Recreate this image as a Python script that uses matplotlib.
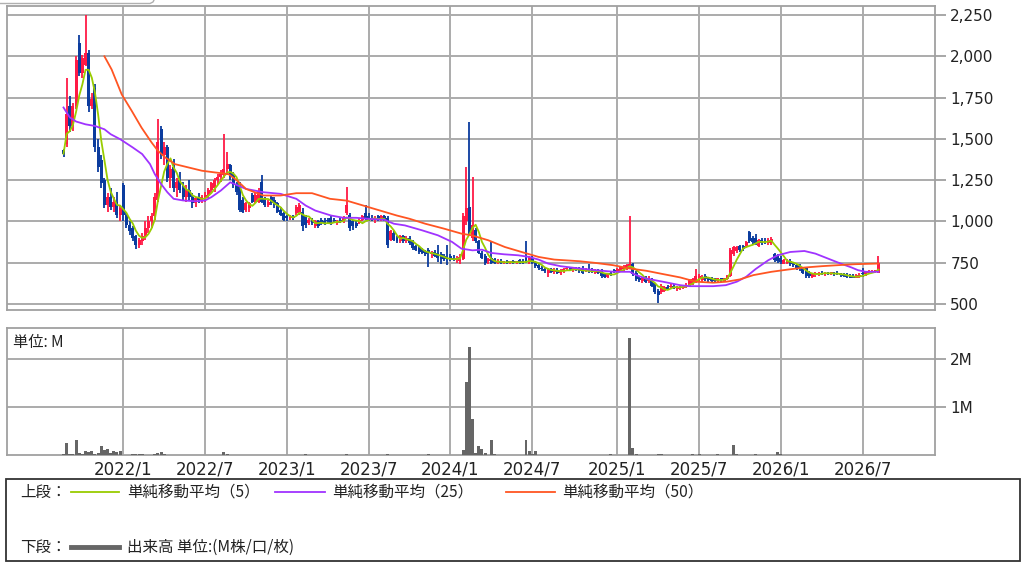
import matplotlib
matplotlib.use('Agg')
import matplotlib.pyplot as plt
import numpy as np
import pandas as pd
from matplotlib.lines import Line2D
from matplotlib.patches import Rectangle

# ---------------- data (weekly OHLC) ----------------
opens = [1430, 1470, 1700, 1580, 1700, 2080, 1900, 1950, 2020, 1700,
         1810, 1450, 1370, 1250, 1100, 1150, 1090, 1120, 1040, 1220,
         1040, 980, 960, 910, 860, 880, 910, 960, 1000, 1030,
         1130, 1560, 1400, 1450, 1260, 1330, 1200, 1250, 1200, 1150,
         1190, 1150, 1110, 1140, 1130, 1150, 1160, 1190, 1200, 1250,
         1270, 1280, 1320, 1340, 1280, 1220, 1230, 1130, 1070, 1080,
         1160, 1120, 1120, 1240, 1140, 1100, 1150, 1130, 1110, 1070,
         1050, 1030, 1020, 1030, 1050, 1050, 1060, 1030, 990, 1010,
         970, 1000, 1010, 1000, 1010, 1020, 1010, 990, 1010, 1000,
         1050, 1040, 1000, 990, 990, 1010, 1050, 1030, 1020, 1010,
         1030, 1010, 1030, 1020, 890, 930, 900, 880, 910, 880,
         900, 880, 850, 840, 830, 820, 830, 800, 815, 810,
         800, 790, 780, 790, 780, 765, 760, 775, 1000, 1090,
         900, 950, 880, 810, 790, 760, 780, 770, 750, 760,
         750, 755, 750, 757, 750, 765, 760, 780, 760, 780,
         750, 735, 720, 710, 690, 710, 695, 705, 690, 700,
         710, 715, 705, 715, 710, 720, 700, 710, 705, 690,
         705, 700, 680, 665, 690, 700, 695, 700, 710, 715,
         720, 745, 690, 660, 640, 650, 640, 650, 625, 580,
         570, 580, 600, 600, 610, 590, 595, 595, 605, 615,
         620, 635, 650, 645, 670, 660, 655, 650, 640, 655,
         640, 650, 670, 800, 820, 850, 850, 850, 935, 900,
         900, 850, 890, 880, 870, 870, 800, 790, 780, 745,
         750, 760, 745, 735, 730, 720, 715, 690, 665, 675,
         680, 690, 680, 690, 685, 690, 690, 685, 680, 675,
         670, 665, 660, 665, 690, 680, 690, 690, 695, 690]
highs = [1440, 1870, 1760, 1720, 2000, 2130, 2010, 2250, 2040, 1780,
         1830, 1500, 1400, 1260, 1170, 1200, 1150, 1180, 1100, 1230,
         1060, 1000, 970, 920, 900, 930, 1000, 1030, 1050, 1170,
         1620, 1580, 1480, 1460, 1340, 1380, 1260, 1300, 1240, 1220,
         1250, 1170, 1150, 1170, 1160, 1180, 1200, 1240, 1260, 1290,
         1310, 1530, 1420, 1350, 1300, 1240, 1240, 1150, 1120, 1120,
         1170, 1170, 1200, 1280, 1150, 1130, 1160, 1150, 1120, 1090,
         1060, 1040, 1040, 1040, 1100, 1110, 1080, 1040, 1020, 1020,
         1010, 1010, 1020, 1020, 1020, 1030, 1020, 1010, 1020, 1030,
         1210, 1050, 1010, 1010, 1020, 1040, 1100, 1050, 1040, 1030,
         1040, 1040, 1040, 1030, 950, 940, 910, 920, 920, 910,
         910, 890, 860, 850, 840, 830, 840, 820, 825, 855,
         815, 800, 855, 800, 795, 790, 800, 1050, 1330, 1600,
         1270, 960, 890, 820, 800, 780, 880, 780, 770, 770,
         760, 765, 760, 765, 760, 775, 775, 880, 790, 790,
         760, 745, 730, 725, 720, 720, 715, 715, 710, 720,
         725, 725, 720, 725, 725, 730, 715, 745, 715, 710,
         710, 710, 690, 690, 700, 710, 715, 730, 735, 740,
         1030, 750, 700, 670, 665, 670, 670, 660, 630, 590,
         620, 610, 615, 620, 620, 610, 610, 615, 625, 650,
         660, 710, 680, 675, 680, 665, 665, 660, 660, 660,
         660, 675, 840, 850, 850, 855, 860, 880, 945, 910,
         925, 895, 900, 900, 900, 905, 810, 800, 790, 775,
         770, 770, 755, 745, 740, 725, 720, 700, 690, 695,
         695, 700, 695, 695, 695, 695, 700, 690, 690, 685,
         680, 680, 680, 685, 720, 700, 705, 705, 705, 790]
lows = [1390, 1450, 1540, 1550, 1680, 1880, 1870, 1940, 1660, 1680,
        1420, 1300, 1200, 1080, 1060, 1070, 1060, 1020, 1000, 1000,
        960, 920, 880, 835, 840, 860, 890, 930, 960, 1010,
        1120, 1380, 1340, 1240, 1200, 1180, 1150, 1170, 1130, 1120,
        1130, 1080, 1090, 1110, 1110, 1120, 1140, 1170, 1180, 1220,
        1240, 1260, 1280, 1250, 1200, 1160, 1060, 1050, 1060, 1060,
        1110, 1110, 1110, 1110, 1090, 1090, 1100, 1080, 1050, 1030,
        1000, 1000, 1010, 1010, 1040, 1040, 940, 960, 980, 980,
        960, 960, 980, 980, 990, 980, 990, 980, 990, 990,
        1040, 940, 950, 960, 985, 1000, 1010, 1000, 1000, 990,
        1000, 1000, 1000, 840, 880, 880, 870, 870, 870, 870,
        860, 830, 820, 805, 800, 790, 725, 780, 785, 755,
        740, 760, 735, 760, 760, 750, 745, 765, 980, 920,
        880, 870, 800, 770, 735, 740, 740, 740, 740, 745,
        745, 745, 745, 745, 745, 745, 745, 750, 745, 740,
        720, 705, 700, 690, 665, 685, 680, 680, 675, 690,
        700, 700, 695, 700, 690, 680, 695, 690, 685, 680,
        680, 660, 655, 660, 670, 685, 690, 695, 700, 705,
        710, 670, 640, 635, 630, 625, 630, 600, 560, 505,
        560, 570, 585, 590, 590, 580, 585, 590, 595, 610,
        615, 630, 635, 635, 640, 635, 635, 630, 635, 635,
        635, 645, 665, 790, 810, 815, 820, 840, 870, 860,
        855, 845, 860, 865, 860, 860, 755, 750, 745, 740,
        740, 730, 725, 705, 700, 680, 660, 660, 660, 665,
        670, 675, 670, 675, 675, 670, 675, 665, 665, 660,
        655, 655, 655, 655, 665, 670, 680, 685, 690, 685]
closes = [1410, 1650, 1580, 1700, 1980, 1900, 1990, 2020, 1700, 1740,
          1450, 1330, 1230, 1100, 1150, 1090, 1120, 1040, 1080, 1040,
          980, 940, 900, 860, 890, 910, 960, 1000, 1030, 1150,
          1480, 1400, 1450, 1260, 1320, 1200, 1240, 1190, 1150, 1190,
          1150, 1110, 1140, 1130, 1150, 1160, 1190, 1230, 1250, 1270,
          1290, 1320, 1350, 1270, 1220, 1180, 1070, 1060, 1110, 1110,
          1120, 1160, 1180, 1120, 1100, 1120, 1110, 1100, 1060, 1040,
          1010, 1020, 1030, 1020, 1090, 1100, 970, 980, 1010, 990,
          1000, 970, 990, 990, 1000, 990, 1000, 1005, 995, 1020,
          1100, 960, 970, 975, 1010, 1030, 1020, 1010, 1010, 1020,
          1010, 1030, 1010, 860, 940, 890, 880, 910, 880, 900,
          870, 840, 830, 815, 810, 800, 810, 810, 790, 780,
          770, 775, 770, 770, 770, 780, 785, 1030, 1080, 930,
          980, 880, 810, 780, 750, 770, 750, 750, 760, 750,
          755, 750, 757, 750, 758, 750, 755, 760, 780, 750,
          730, 715, 710, 700, 710, 695, 705, 690, 700, 710,
          715, 705, 715, 705, 700, 690, 705, 700, 695, 705,
          690, 670, 665, 685, 680, 695, 710, 725, 725, 735,
          745, 680, 650, 645, 660, 635, 660, 610, 570, 555,
          610, 600, 590, 610, 600, 605, 600, 610, 615, 645,
          650, 670, 670, 665, 650, 645, 640, 640, 655, 645,
          655, 670, 830, 845, 845, 825, 835, 875, 880, 875,
          870, 885, 870, 875, 890, 895, 765, 760, 755, 765,
          760, 740, 735, 715, 710, 690, 670, 670, 685, 690,
          690, 680, 690, 680, 690, 680, 680, 675, 670, 665,
          660, 660, 675, 675, 680, 695, 695, 700, 700, 750]
volumes = [0.03, 0.25, 0.02, 0.03, 0.32, 0.04, 0.03, 0.08, 0.07, 0.08,
           0.03, 0.04, 0.19, 0.10, 0.13, 0.04, 0.08, 0.07, 0.08, 0.01,
           0.01, 0.01, 0.03, 0.03, 0.03, 0.03, 0.01, 0.01, 0.01, 0.02,
           0.04, 0.07, 0.02, 0.01, 0.01, 0.01, 0.01, 0.01, 0.01, 0.01,
           0.01, 0.01, 0.01, 0.01, 0.01, 0.01, 0.01, 0.01, 0.01, 0.01,
           0.01, 0.07, 0.02, 0.01, 0.01, 0.01, 0.01, 0.01, 0.01, 0.01,
           0.01, 0.01, 0.01, 0.01, 0.01, 0.01, 0.01, 0.01, 0.01, 0.01,
           0.01, 0.01, 0.01, 0.01, 0.01, 0.01, 0.01, 0.03, 0.01, 0.01,
           0.01, 0.01, 0.01, 0.01, 0.01, 0.01, 0.01, 0.01, 0.01, 0.01,
           0.03, 0.01, 0.01, 0.01, 0.01, 0.01, 0.01, 0.01, 0.01, 0.01,
           0.01, 0.01, 0.01, 0.03, 0.01, 0.01, 0.01, 0.01, 0.01, 0.01,
           0.01, 0.01, 0.01, 0.01, 0.01, 0.01, 0.03, 0.01, 0.01, 0.01,
           0.01, 0.01, 0.01, 0.01, 0.01, 0.01, 0.01, 0.10, 1.52, 2.24,
           0.74, 0.05, 0.18, 0.13, 0.04, 0.01, 0.31, 0.03, 0.01, 0.01,
           0.01, 0.01, 0.01, 0.01, 0.01, 0.01, 0.01, 0.31, 0.09, 0.03,
           0.09, 0.01, 0.01, 0.01, 0.01, 0.01, 0.01, 0.01, 0.01, 0.01,
           0.01, 0.01, 0.01, 0.01, 0.01, 0.01, 0.01, 0.01, 0.01, 0.01,
           0.01, 0.01, 0.01, 0.01, 0.03, 0.01, 0.01, 0.01, 0.01, 0.01,
           2.43, 0.14, 0.03, 0.01, 0.01, 0.01, 0.01, 0.01, 0.01, 0.03,
           0.03, 0.01, 0.01, 0.01, 0.01, 0.01, 0.01, 0.01, 0.01, 0.01,
           0.03, 0.01, 0.03, 0.01, 0.01, 0.01, 0.01, 0.01, 0.03, 0.01,
           0.01, 0.01, 0.01, 0.21, 0.03, 0.01, 0.01, 0.01, 0.01, 0.01,
           0.03, 0.01, 0.01, 0.01, 0.01, 0.01, 0.01, 0.06, 0.03, 0.01,
           0.01, 0.01, 0.01, 0.01, 0.01, 0.01, 0.01, 0.01, 0.01, 0.01,
           0.01, 0.01, 0.01, 0.01, 0.01, 0.01, 0.01, 0.01, 0.01, 0.01,
           0.01, 0.01, 0.01, 0.01, 0.01, 0.01, 0.01, 0.01, 0.01, 0.01]

# moving averages (25, 50) at week positions
ma25_x = [0, 2, 4, 7, 10, 13, 15, 18, 22, 25, 27.5, 29, 31, 33, 35, 38, 42, 45, 47, 50,
          53, 58, 63.5, 69, 74, 77, 80, 85, 89, 93, 97, 102, 105, 108.5, 114, 119, 123.5,
          126.5, 130, 133, 136, 140, 144.5, 148, 151, 154, 158, 164, 169, 175, 180, 182,
          185, 190.5, 196, 199, 206.5, 210.5, 214, 217, 220, 224, 227, 231, 235.5, 239,
          243, 247, 250.5, 252.5, 255, 259]
ma25_y = [1690, 1630, 1605, 1588, 1578, 1558, 1528, 1498, 1448, 1408, 1347, 1287, 1227, 1177,
          1137, 1127, 1122, 1127, 1147, 1187, 1237, 1197, 1177, 1167, 1137, 1096, 1066, 1036,
          1022, 1022, 1016, 1010, 986, 976, 946, 916, 876, 835, 825, 829, 809, 801, 795, 785,
          769, 745, 729, 715, 705, 695, 695, 675, 655, 635, 614, 608, 608, 614, 635, 665, 712,
          765, 795, 815, 821, 805, 775, 745, 721, 705, 695, 695]
ma50_x = [13, 15.3, 18.5, 21.7, 24.8, 28, 30, 32.3, 35.4, 39.7, 44, 48, 52.4, 55, 58, 63.5,
          69, 74, 79, 84.7, 90, 95.3, 100.6, 105.9, 110, 115, 121, 126.5, 129.7, 135, 140.3,
          145.6, 151, 156, 164, 169, 174.7, 180, 185.3, 190.6, 196, 201, 206.5, 210.7, 215,
          219.3, 225, 230.4, 235.6, 241, 246, 251.5, 259]
ma50_y = [2000, 1920, 1769, 1669, 1568, 1478, 1428, 1388, 1347, 1327, 1307, 1297, 1287, 1250,
          1197, 1157, 1157, 1171, 1171, 1137, 1126, 1096, 1066, 1036, 1016, 986, 956, 926, 916,
          886, 845, 815, 785, 769, 759, 749, 735, 715, 701, 681, 661, 635, 629, 635, 649, 675,
          695, 709, 721, 729, 735, 741, 745]

tick_pos = [19, 45, 71, 97, 123, 149, 176, 202, 228, 254]
tick_labels = ['2022/1', '2022/7', '2023/1', '2023/7', '2024/1', '2024/7',
               '2025/1', '2025/7', '2026/1', '2026/7']
price_ticks = [500, 750, 1000, 1250, 1500, 1750, 2000, 2250]
vol_ticks = [1, 2]
vol_labels = ['1M', '2M']

# ---------------- drawing ----------------
plt.rcParams['font.family'] = ['DejaVu Sans']
CJK = ['Noto Sans CJK JP', 'DejaVu Sans']
RED = '#ff1a45'
BLUE = '#0b3c9e'
GRID = '#ababab'
TXT = '#222222'

W, H = 1024, 565
fig = plt.figure(figsize=(W / 100, H / 100), dpi=100)
fig.patch.set_facecolor('white')


def rect(l, t, r, b):
    return [l / W, 1 - b / H, (r - l) / W, (b - t) / H]


ax = fig.add_axes(rect(7, 6, 935, 310))
axv = fig.add_axes(rect(7, 328, 935, 455))

x = np.arange(len(closes))
o = np.array(opens, float)
h = np.array(highs, float)
l = np.array(lows, float)
c = np.array(closes, float)
up = c >= o
cols = np.where(up, RED, BLUE)
body_lo = np.minimum(o, c)
body_h = np.maximum(np.abs(c - o), 8)

ax.vlines(x, l, h, colors=cols, lw=1.3, zorder=3)
ax.bar(x, body_h, bottom=body_lo, width=0.95, color=cols, lw=0, zorder=3)

ma5 = pd.Series(c).rolling(5, min_periods=1).mean()
ax.plot(x, ma5, color='#99cc00', lw=1.3, zorder=5)
ax.plot(ma25_x, ma25_y, color='#a033ff', lw=1.3, zorder=5)
ax.plot(ma50_x, ma50_y, color='#ff5522', lw=1.3, zorder=5)

xlim = (-17.96, 277.0)
for a in (ax, axv):
    a.set_xlim(*xlim)
    a.set_xticks(tick_pos)
    a.grid(True, color=GRID, lw=1.4, zorder=0)
    a.set_axisbelow(True)
    for s in a.spines.values():
        s.set_color('#a0a0a0')
        s.set_linewidth(1.3)
    a.yaxis.tick_right()
    a.tick_params(axis='y', which='both', right=True, left=False, labelright=True,
                  labelleft=False, length=8, width=1.3, color='#a0a0a0',
                  labelsize=11, labelcolor=TXT, pad=3)

ax.set_ylim(463.7, 2304.5)
ax.set_yticks(price_ticks)
ax.set_yticklabels([f'{v:,}' for v in price_ticks])
ax.tick_params(axis='x', length=0, labelbottom=False)

axv.bar(x, volumes, width=0.95, color='#666666', lw=0, zorder=3)
axv.set_ylim(0, 2.64)
axv.set_yticks(vol_ticks)
axv.set_yticklabels(vol_labels)
axv.set_xticklabels(tick_labels)
axv.tick_params(axis='x', length=0, labelsize=12, labelcolor=TXT, pad=4)

fig.text(13 / W, 1 - 342 / H, '単位: M', fontsize=11, family=CJK, color=TXT,
         ha='left', va='center')

# legend box
fig.add_artist(Rectangle((6 / W, 1 - 561 / H), 1014 / W, 82 / H, transform=fig.transFigure,
                         fill=False, ec='#333333', lw=1.3))
y1 = 1 - 492 / H
y2 = 1 - 547 / H
fs = 11.2
fig.text(20 / W, y1, '上段：', fontsize=fs, family=CJK, color=TXT, ha='left', va='center')
fig.add_artist(Line2D([71 / W, 119 / W], [y1, y1], color='#99cc00', lw=1.3, transform=fig.transFigure))
fig.text(127 / W, y1, '単純移動平均（5）', fontsize=fs, family=CJK, color=TXT, ha='left', va='center')
fig.add_artist(Line2D([275 / W, 325 / W], [y1, y1], color='#a033ff', lw=1.3, transform=fig.transFigure))
fig.text(332 / W, y1, '単純移動平均（25）', fontsize=fs, family=CJK, color=TXT, ha='left', va='center')
fig.add_artist(Line2D([506 / W, 555 / W], [y1, y1], color='#ff5522', lw=1.3, transform=fig.transFigure))
fig.text(562 / W, y1, '単純移動平均（50）', fontsize=fs, family=CJK, color=TXT, ha='left', va='center')
fig.text(20 / W, y2, '下段：', fontsize=fs, family=CJK, color=TXT, ha='left', va='center')
fig.add_artist(Line2D([71 / W, 119 / W], [y2, y2], color='#666666', lw=3.5, transform=fig.transFigure))
fig.text(127 / W, y2, '出来高 単位:(M株/口/枚)', fontsize=fs, family=CJK, color=TXT,
         ha='left', va='center')

# small tab edge at the top left
fig.add_artist(Line2D([0, 150 / W, 153 / W, 154 / W], [1 - 3.5 / H, 1 - 3.5 / H, 1 - 2 / H, 1.0],
                      color='#b0b0b0', lw=1.0, transform=fig.transFigure))

fig.savefig('out.png', dpi=100, facecolor='white')
